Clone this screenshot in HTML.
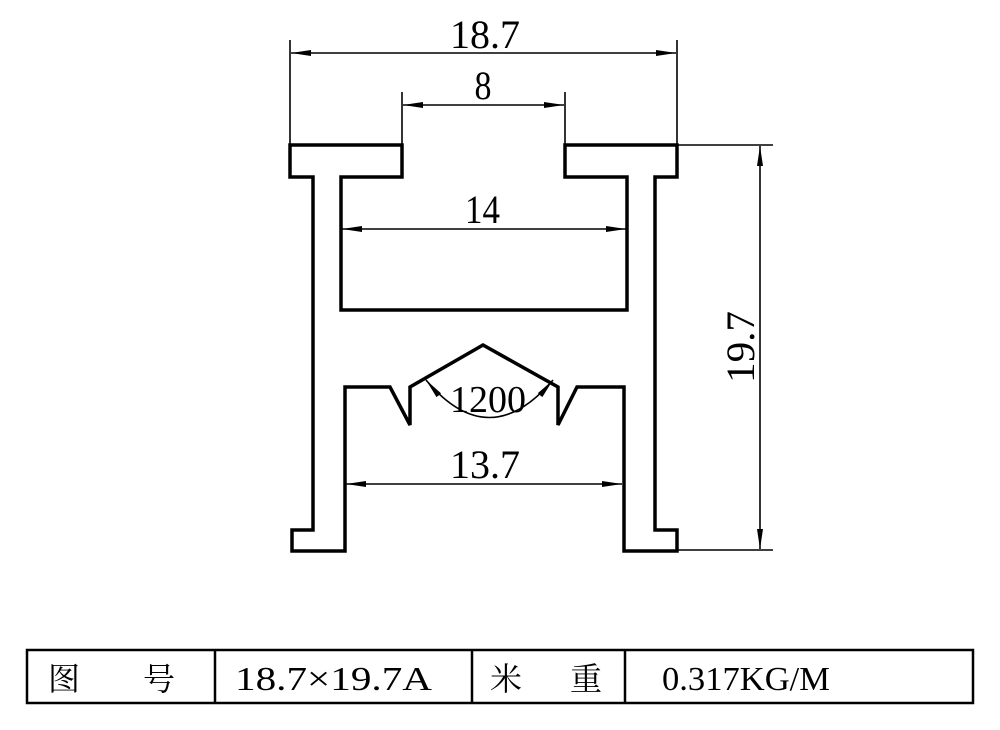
<!DOCTYPE html>
<html><head><meta charset="utf-8"><style>
body{margin:0;background:#fff}
svg{display:block}
text{font-family:"Liberation Serif","Noto Serif CJK SC",serif;fill:#000}
</style></head><body>
<svg width="1000" height="730" viewBox="0 0 1000 730" xmlns="http://www.w3.org/2000/svg">
<defs>
<marker id="a" viewBox="0 0 20 6" refX="20" refY="3" markerWidth="20" markerHeight="6" orient="auto-start-reverse" markerUnits="userSpaceOnUse"><path d="M0,0 L20,3 L0,6 Z" fill="#000"/></marker>
</defs>
<path d="M290,145 H402 V177 H341 V310 H627 V177 H565 V145 H677 V177 H655 V530 H677 V551 H624 V387 H577 L558,425 V387 L483,345 L410,387 V425 L390,387 H345 V551 H292 V530 H313 V177 H290 Z" fill="none" stroke="#000" stroke-width="3.5" stroke-linejoin="miter"/>
<g stroke="#000" stroke-width="1.6" fill="none">
<line x1="290" y1="40" x2="290" y2="145"/>
<line x1="677" y1="40" x2="677" y2="145"/>
<line x1="291" y1="53" x2="676" y2="53" marker-start="url(#a)" marker-end="url(#a)"/>
<line x1="402" y1="92" x2="402" y2="145"/>
<line x1="565" y1="92" x2="565" y2="145"/>
<line x1="403" y1="105" x2="564" y2="105" marker-start="url(#a)" marker-end="url(#a)"/>
<line x1="342" y1="229" x2="626" y2="229" marker-start="url(#a)" marker-end="url(#a)"/>
<line x1="346" y1="484" x2="622" y2="484" marker-start="url(#a)" marker-end="url(#a)"/>
<line x1="677" y1="145" x2="773" y2="145"/>
<line x1="677" y1="550" x2="773" y2="550"/>
<line x1="760" y1="146" x2="760" y2="549" marker-start="url(#a)" marker-end="url(#a)"/>
<path d="M426,380 Q489,455 553,380" marker-start="url(#a)" marker-end="url(#a)"/>
</g>
<text x="450" y="48" font-size="40" textLength="70" lengthAdjust="spacingAndGlyphs">18.7</text>
<text x="483" y="99" font-size="40" text-anchor="middle" transform="translate(483,0) scale(0.85,1) translate(-483,0)">8</text>
<text x="465" y="223" font-size="40" textLength="35" lengthAdjust="spacingAndGlyphs">14</text>
<text x="450" y="412" font-size="38" textLength="76" lengthAdjust="spacingAndGlyphs">1200</text>
<text x="450" y="478" font-size="40" textLength="70" lengthAdjust="spacingAndGlyphs">13.7</text>
<text x="0" y="0" font-size="40" textLength="72" lengthAdjust="spacingAndGlyphs" transform="translate(754,383) rotate(-90)">19.7</text>
<g stroke="#000" stroke-width="2.5" fill="none">
<rect x="27" y="650" width="946" height="53"/>
<line x1="215" y1="650" x2="215" y2="703"/>
<line x1="472" y1="650" x2="472" y2="703"/>
<line x1="625" y1="650" x2="625" y2="703"/>
</g>
<text x="48" y="690" font-size="32" font-family="'Noto Sans CJK SC',sans-serif">图</text>
<text x="143" y="690" font-size="32" font-family="'Noto Sans CJK SC',sans-serif">号</text>
<text x="235" y="690" font-size="34" textLength="197" lengthAdjust="spacingAndGlyphs">18.7×19.7A</text>
<text x="490" y="690" font-size="32" font-family="'Noto Sans CJK SC',sans-serif">米</text>
<text x="570" y="690" font-size="32" font-family="'Noto Sans CJK SC',sans-serif">重</text>
<text x="662" y="690" font-size="34" textLength="168" lengthAdjust="spacingAndGlyphs">0.317KG/M</text>
</svg>
</body></html>
